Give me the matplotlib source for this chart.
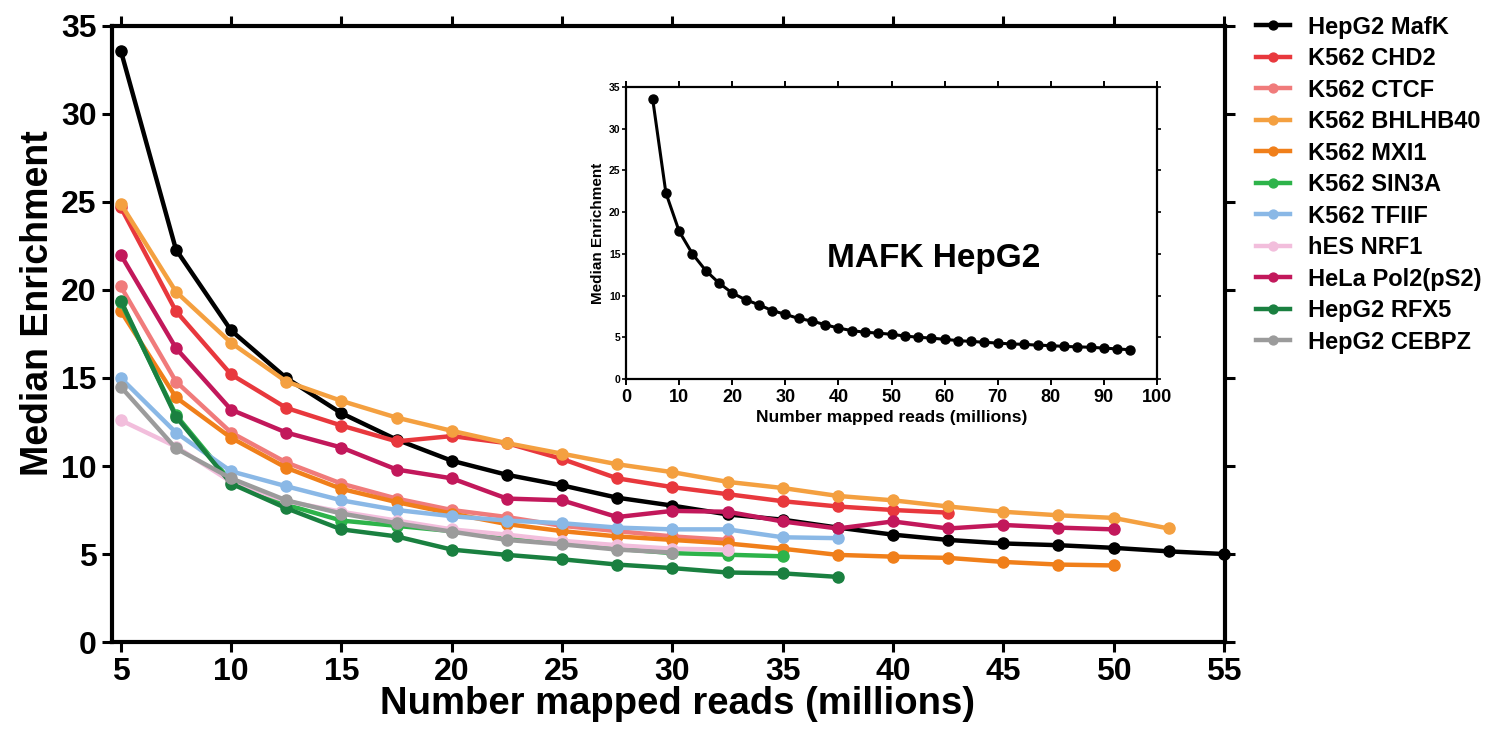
import matplotlib
matplotlib.use('Agg')
import matplotlib.pyplot as plt

plt.rcParams['font.family'] = ['Liberation Sans', 'DejaVu Sans']
plt.rcParams['font.weight'] = 'bold'

# reads (millions) sampled every 2.5M
reads = [5, 7.5, 10, 12.5, 15, 17.5, 20, 22.5, 25, 27.5, 30, 32.5, 35,
         37.5, 40, 42.5, 45, 47.5, 50, 52.5, 55]

hepg2_mafk = [33.6, 22.3, 17.7, 15.0, 13.0, 11.5, 10.3, 9.5, 8.9, 8.2, 7.75,
              7.25, 6.95, 6.5, 6.1, 5.8, 5.6, 5.5, 5.35, 5.15, 5.0]
k562_chd2 = [24.7, 18.8, 15.2, 13.3, 12.3, 11.4, 11.7, 11.3, 10.4, 9.3, 8.8,
             8.4, 8.0, 7.7, 7.5, 7.35]
k562_ctcf = [20.2, 14.8, 11.9, 10.2, 9.0, 8.15, 7.5, 7.1, 6.6, 6.3, 6.0, 5.8]
k562_bhlhb40 = [24.9, 19.9, 17.0, 14.8, 13.7, 12.75, 12.0, 11.3, 10.7, 10.1,
                9.65, 9.1, 8.75, 8.3, 8.05, 7.7, 7.4, 7.2, 7.05, 6.45]
k562_mxi1 = [18.8, 13.9, 11.6, 9.9, 8.7, 7.95, 7.3, 6.7, 6.3, 6.0, 5.8, 5.6,
             5.3, 4.95, 4.85, 4.78, 4.55, 4.4, 4.35]
k562_sin3a = [19.3, 12.9, 9.1, 7.8, 6.9, 6.6, 6.3, 5.9, 5.6, 5.3, 5.05, 4.96,
              4.87]
k562_tfiif = [15.0, 11.9, 9.7, 8.85, 8.05, 7.5, 7.15, 6.9, 6.75, 6.5, 6.4,
              6.4, 5.95, 5.9]
hes_nrf1 = [12.6, 11.1, 9.1, 8.0, 7.4, 6.9, 6.4, 6.1, 5.75, 5.5, 5.3, 5.25]
hela_pol2 = [22.0, 16.7, 13.2, 11.9, 11.05, 9.8, 9.3, 8.15, 8.05, 7.1, 7.45,
             7.4, 6.85, 6.45, 6.85, 6.45, 6.65, 6.5, 6.4]
hepg2_rfx5 = [19.4, 12.8, 9.0, 7.6, 6.4, 6.0, 5.25, 4.95, 4.7, 4.4, 4.2, 3.95,
              3.9, 3.7]
hepg2_cebpz = [14.5, 11.0, 9.3, 8.05, 7.3, 6.75, 6.27, 5.8, 5.55, 5.25, 5.08]

labels = ['HepG2 MafK', 'K562 CHD2', 'K562 CTCF', 'K562 BHLHB40', 'K562 MXI1',
          'K562 SIN3A', 'K562 TFIIF', 'hES NRF1', 'HeLa Pol2(pS2)',
          'HepG2 RFX5', 'HepG2 CEBPZ']
series = [hepg2_mafk, k562_chd2, k562_ctcf, k562_bhlhb40, k562_mxi1,
          k562_sin3a, k562_tfiif, hes_nrf1, hela_pol2, hepg2_rfx5, hepg2_cebpz]
colors = ['#000000', '#e8383d', '#f07b7b', '#f4a040', '#f07f1a', '#2db34a',
          '#8ab8e6', '#f2bedc', '#c2185b', '#1a8040', '#9b9b9b']

# inset: MafK over the full read depth
inset_reads = [5, 7.5, 10, 12.5, 15, 17.5, 20, 22.5, 25, 27.5, 30, 32.5, 35,
               37.5, 40, 42.5, 45, 47.5, 50, 52.5, 55, 57.5, 60, 62.5, 65,
               67.5, 70, 72.5, 75, 77.5, 80, 82.5, 85, 87.5, 90, 92.5, 95]
inset_mafk = [33.6, 22.3, 17.7, 15.0, 13.0, 11.5, 10.3, 9.5, 8.9, 8.2, 7.75,
              7.25, 6.95, 6.5, 6.1, 5.8, 5.6, 5.5, 5.35, 5.15, 5.0, 4.9, 4.75,
              4.6, 4.5, 4.4, 4.3, 4.2, 4.15, 4.05, 4.0, 3.9, 3.85, 3.8, 3.7,
              3.6, 3.5]

fig = plt.figure(figsize=(14.91, 7.36), dpi=100)
ax = fig.add_axes([0.0751, 0.1277, 0.7465, 0.837])

for ys, lab, col in zip(series, labels, colors):
    ax.plot(reads[:len(ys)], ys, color=col, lw=3.2, marker='o', ms=8,
            label=lab, clip_on=False)

ax.set_xlim(4.6, 55.05)
ax.set_ylim(0, 35)
ax.set_xticks(range(5, 56, 5))
ax.set_yticks(range(0, 36, 5))
for s in ax.spines.values():
    s.set_linewidth(3)
ax.tick_params(which='both', direction='out', length=7, width=2.2,
               labelsize=23, top=True, right=True, pad=4)
ax.set_xlabel('Number mapped reads (millions)', fontsize=27.5,
              fontweight='bold')
ax.xaxis.set_label_coords(0.508, -0.072)
ax.set_ylabel('Median Enrichment', fontsize=27, fontweight='bold')
ax.yaxis.set_label_coords(-0.05, 0.55)

leg = ax.legend(loc='upper left', bbox_to_anchor=(1.028, 1.017),
                frameon=False, fontsize=17, handlelength=1.45,
                handletextpad=0.75, labelspacing=0.36, borderaxespad=0,
                borderpad=0, markerscale=0.8)

# inset axes
ins = fig.add_axes([0.4199, 0.4851, 0.3561, 0.3967])
ins.plot(inset_reads, inset_mafk, color='black', lw=2.2, marker='o', ms=6.5,
         clip_on=False)
ins.set_xlim(0, 100)
ins.set_ylim(0, 35)
ins.set_xticks(range(0, 101, 10))
ins.set_yticks(range(0, 36, 5))
for s in ins.spines.values():
    s.set_linewidth(1.6)
ins.tick_params(axis='x', direction='out', length=4, width=1.4,
                labelsize=13, top=True, pad=3)
ins.tick_params(axis='y', direction='out', length=3, width=1.2,
                labelsize=7.5, right=True, pad=1)
ins.set_xlabel('Number mapped reads (millions)', fontsize=12.5,
               fontweight='bold', labelpad=3)
ins.set_ylabel('Median Enrichment', fontsize=11, fontweight='bold',
               labelpad=3)
ins.text(58, 14.5, 'MAFK HepG2', fontsize=24, fontweight='bold',
         ha='center', va='center')

fig.savefig('out.png', dpi=100)
